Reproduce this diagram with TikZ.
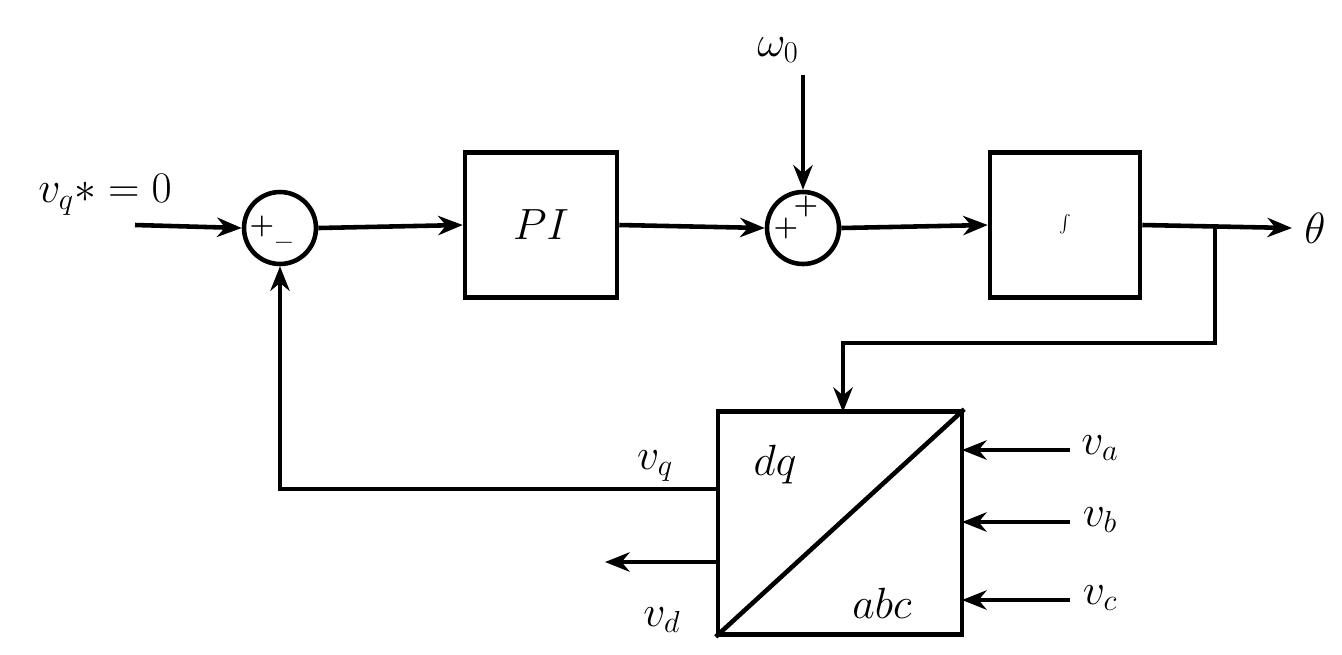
\documentclass[tikz,border=0pt]{standalone}
\usetikzlibrary{arrows.meta}
\begin{document}
\begin{tikzpicture}[x=0.02cm,y=-0.02cm,
  every node/.style={font=\fontsize{26}{30}\selectfont},
  blk/.style={draw,line width=2.6pt,inner sep=0pt},
  sum/.style={draw,circle,line width=2.6pt,minimum size=1.44cm,inner sep=0pt},
  sig/.style={font=\fontsize{16}{18}\selectfont\bfseries,inner sep=0pt},
  ln/.style={line width=2.6pt},
  arr/.style={ln,-{Stealth[length=14pt,width=11pt]}}]
\useasboundingbox (0,0) rectangle (1342,654);
% blocks
\node[sum] (s1) at (280,228) {};
\node[sum] (s2) at (803,228) {};
\node[blk,minimum width=3.04cm,minimum height=2.9cm] (pi) at (541,225) {$PI$};
\node[blk,minimum width=3.0cm,minimum height=2.9cm] (int) at (1065,225) {$\int$};
\node[blk,minimum width=4.88cm,minimum height=4.46cm] (tr) at (840,523) {};
\draw[ln] (tr.south west) -- (tr.north east);
\node at (775,465) {$dq$};
\node at (882,603) {$abc$};
% signs
\node[sig] at (262,226) {+};
\node[sig] at (284,246) {\textendash};
\node[sig] at (806,206) {+};
\node[sig] at (786,228) {+};
% labels and free ends
\node (vqs) at (105,195) {$v_q{*}=0$};
\coordinate (vin) at (135,225);
\node (w0) at (778,50) {$\omega_0$};
\coordinate (win) at (803,75);
\node (th) at (1315,228) {$\theta$};
\coordinate (tend) at (1292,228);
\coordinate (br) at (1215,228);
\coordinate (vdend) at (605,562);
\node at (655,466) {$v_q$};
\node at (662,620) {$v_d$};
\node (va) at (1100,448) {$v_a$};
\node (vb) at (1100,520) {$v_b$};
\node (vc) at (1100,598) {$v_c$};
% connectors
\draw[arr] (vin) -- (s1.west);
\draw[arr] (s1.east) -- (pi.west);
\draw[arr] (pi.east) -- (s2.west);
\draw[arr] (win) -- (s2.north);
\draw[arr] (s2.east) -- (int.west);
\draw[arr] (int.east) -- (tend);
\draw[arr] (br) -- (1215,343) -- (843,343) -- (843,412);
\draw[arr] (718,489) -- (280,489) -- (s1.south);
\draw[arr] (718,562) -- (vdend);
\draw[arr] (1070,450) -- (962,450);
\draw[arr] (1070,522) -- (962,522);
\draw[arr] (1070,600) -- (962,600);
\end{tikzpicture}
\end{document}
